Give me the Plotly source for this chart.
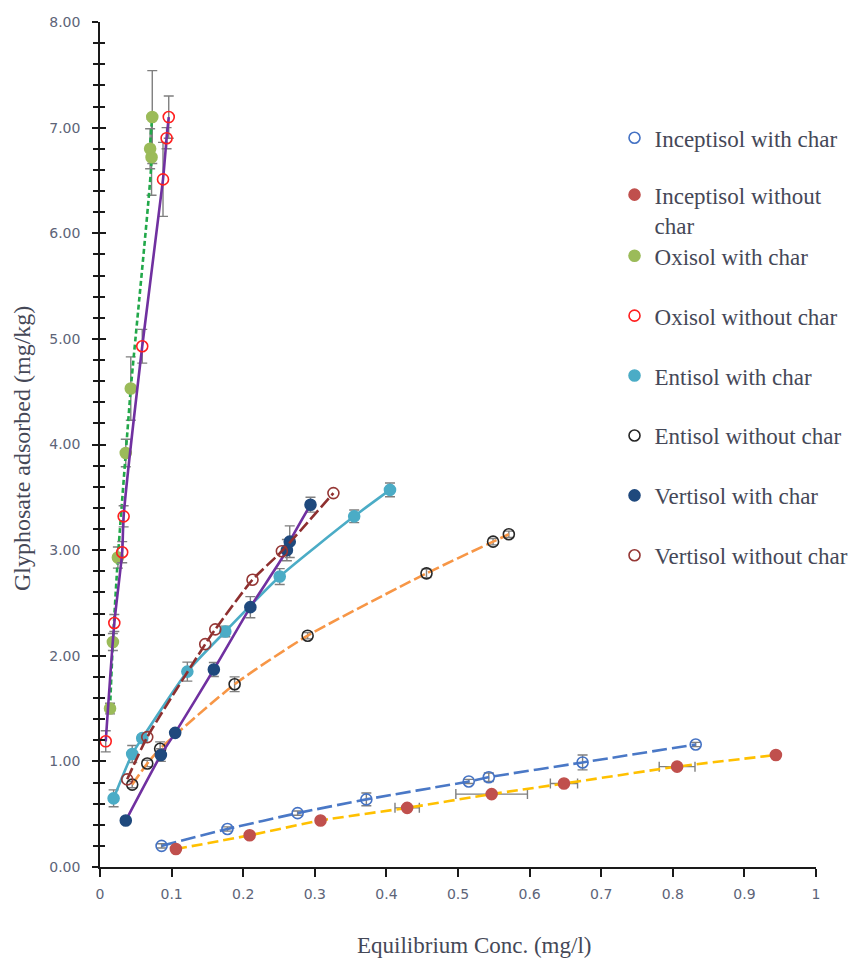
import plotly.graph_objects as go

# ---- Sorption data: equilibrium concentration (mg/l) vs glyphosate adsorbed (mg/kg)
incep_char_x = [0.086, 0.178, 0.276, 0.372, 0.515, 0.543, 0.674, 0.832]
incep_char_y = [0.20, 0.36, 0.51, 0.64, 0.81, 0.85, 0.99, 1.16]
incep_char_ey = [0.02, 0.02, 0.02, 0.06, 0.02, 0.04, 0.07, 0.02]

incep_nochar_x = [0.106, 0.209, 0.308, 0.429, 0.547, 0.648, 0.806, 0.944]
incep_nochar_y = [0.17, 0.30, 0.44, 0.56, 0.69, 0.79, 0.95, 1.06]
incep_nochar_ex = [0.0, 0.0, 0.0, 0.017, 0.05, 0.019, 0.025, 0.0]

oxi_char_x = [0.014, 0.018, 0.025, 0.036, 0.043, 0.072, 0.070, 0.073]
oxi_char_y = [1.50, 2.13, 2.93, 3.92, 4.53, 6.72, 6.80, 7.10]
oxi_char_ey = [0.05, 0.08, 0.10, 0.13, 0.30, 0.36, 0.19, 0.44]

oxi_nochar_x = [0.008, 0.020, 0.031, 0.033, 0.059, 0.088, 0.093, 0.096]
oxi_nochar_y = [1.19, 2.31, 2.98, 3.32, 4.93, 6.51, 6.90, 7.10]
oxi_nochar_ey = [0.10, 0.08, 0.10, 0.10, 0.16, 0.35, 0.10, 0.20]

enti_char_x = [0.019, 0.045, 0.059, 0.122, 0.175, 0.251, 0.355, 0.405]
enti_char_y = [0.65, 1.07, 1.22, 1.85, 2.23, 2.75, 3.32, 3.57]
enti_char_ey = [0.08, 0.08, 0.03, 0.09, 0.05, 0.075, 0.06, 0.065]

enti_nochar_x = [0.045, 0.066, 0.084, 0.188, 0.290, 0.456, 0.549, 0.571]
enti_nochar_y = [0.78, 0.98, 1.12, 1.73, 2.19, 2.78, 3.08, 3.15]
enti_nochar_ey = [0.03, 0.03, 0.065, 0.07, 0.03, 0.04, 0.03, 0.03]

verti_char_x = [0.036, 0.085, 0.105, 0.159, 0.210, 0.261, 0.265, 0.294]
verti_char_y = [0.44, 1.06, 1.27, 1.87, 2.46, 3.00, 3.08, 3.43]
verti_char_ey = [0.02, 0.06, 0.03, 0.066, 0.10, 0.10, 0.15, 0.07]

verti_nochar_x = [0.038, 0.066, 0.147, 0.161, 0.213, 0.254, 0.326]
verti_nochar_y = [0.83, 1.23, 2.11, 2.25, 2.72, 2.99, 3.54]

series_names = [
    "Inceptisol with char",
    "Inceptisol without<br>char",
    "Oxisol with char",
    "Oxisol without char",
    "Entisol with char",
    "Entisol without char",
    "Vertisol with char",
    "Vertisol without char",
]

x_ticks = [0, 0.1, 0.2, 0.3, 0.4, 0.5, 0.6, 0.7, 0.8, 0.9, 1]

# ---- styling per series: marker fill/edge, trend line colour and dash
styles = [
    dict(fill="rgba(0,0,0,0)", edge="#4472C4", line="#4a78c6", dash="15px,5px"),
    dict(fill="#C0504D", edge="#C0504D", line="#FFC000", dash="11px,5px"),
    dict(fill="#9BBB59", edge="#9BBB59", line="#22a84a", dash="5px,3px"),
    dict(fill="rgba(0,0,0,0)", edge="#FF1F1F", line="#7030A0", dash="solid"),
    dict(fill="#4BACC6", edge="#4BACC6", line="#4BACC6", dash="solid"),
    dict(fill="rgba(0,0,0,0)", edge="#262626", line="#F79646", dash="12px,4px"),
    dict(fill="#1F497D", edge="#1F497D", line="#7030A0", dash="solid"),
    dict(fill="rgba(0,0,0,0)", edge="#953735", line="#8e2f2f", dash="12px,4px"),
]

data = [
    (incep_char_x, incep_char_y, None, incep_char_ey),
    (incep_nochar_x, incep_nochar_y, incep_nochar_ex, None),
    (oxi_char_x, oxi_char_y, None, oxi_char_ey),
    (oxi_nochar_x, oxi_nochar_y, None, oxi_nochar_ey),
    (enti_char_x, enti_char_y, None, enti_char_ey),
    (enti_nochar_x, enti_nochar_y, None, enti_nochar_ey),
    (verti_char_x, verti_char_y, None, verti_char_ey),
    (verti_nochar_x, verti_nochar_y, None, None),
]

ERR_COLOR = "#7f7f7f"
fig = go.Figure()

for i, ((xs, ys, ex, ey), name, st) in enumerate(zip(data, series_names, styles)):
    legend_id = "legend" if i < 2 else "legend2"
    line_kw = dict(color=st["line"], width=2.6, shape="spline", smoothing=0.6)
    if st["dash"] != "solid":
        line_kw["dash"] = st["dash"]
    trace_kw = {}
    if ey is not None:
        trace_kw["error_y"] = dict(type="data", array=ey, visible=True,
                                   color=ERR_COLOR, thickness=1.4, width=5)
    if ex is not None:
        trace_kw["error_x"] = dict(type="data", array=ex, visible=True,
                                   color=ERR_COLOR, thickness=1.4, width=5)
    # trend line with error bars
    fig.add_trace(go.Scatter(
        x=xs, y=ys, mode="lines", line=line_kw, showlegend=False,
        legendgroup=f"g{i}", legend=legend_id, cliponaxis=False,
        hoverinfo="skip", **trace_kw))
    # measured points
    fig.add_trace(go.Scatter(
        x=xs, y=ys, mode="markers", name=name, legendgroup=f"g{i}",
        legend=legend_id, cliponaxis=False,
        marker=dict(symbol="circle", size=11, color=st["fill"],
                    line=dict(color=st["edge"], width=1.6))))

AX_COLOR = "#1a1a1a"
TICK_FONT = dict(family="DejaVu Sans", size=14, color="#5d6478")
TEXT_FONT = dict(family="Liberation Serif", size=23, color="#454857")

fig.update_layout(
    width=854, height=961,
    margin=dict(l=100, r=38, t=22, b=94, autoexpand=False),
    paper_bgcolor="white", plot_bgcolor="white",
    xaxis=dict(
        range=[0, 1], tickvals=x_ticks, ticktext=[f"{v:g}" for v in x_ticks],
        showgrid=False, zeroline=False, showline=True,
        linecolor=AX_COLOR, linewidth=1.6,
        ticks="outside", ticklen=8, tickwidth=1.6, tickcolor=AX_COLOR,
        tickfont=TICK_FONT, ticklabelstandoff=5,
    ),
    yaxis=dict(
        range=[0, 8], dtick=1, tick0=0, tickformat=".2f",
        showgrid=False, zeroline=False, showline=True,
        linecolor=AX_COLOR, linewidth=1.6,
        ticks="outside", ticklen=6, tickwidth=1.6, tickcolor=AX_COLOR,
        minor=dict(dtick=0.2, tick0=0, ticks="outside", ticklen=5,
                   tickwidth=1.6, tickcolor=AX_COLOR, showgrid=False),
        tickfont=TICK_FONT, ticklabelstandoff=9,
    ),
    # mirror axis so the y ticks cross the axis line
    yaxis2=dict(
        overlaying="y", anchor="x", side="left", range=[0, 8],
        dtick=1, tick0=0, showticklabels=False, showgrid=False,
        zeroline=False, showline=False,
        ticks="inside", ticklen=6, tickwidth=1.6, tickcolor=AX_COLOR,
        minor=dict(dtick=0.2, tick0=0, ticks="inside", ticklen=5,
                   tickwidth=1.6, tickcolor=AX_COLOR, showgrid=False),
    ),
    legend=dict(
        x=0.7186, y=(866.7 - 116) / 845, xanchor="left", yanchor="top",
        font=TEXT_FONT, bgcolor="rgba(0,0,0,0)", borderwidth=0,
        tracegroupgap=24, valign="top", itemclick=False,
    ),
    legend2=dict(
        x=0.7186, y=(866.7 - 234) / 845, xanchor="left", yanchor="top",
        font=TEXT_FONT, bgcolor="rgba(0,0,0,0)", borderwidth=0,
        tracegroupgap=27, valign="top", itemclick=False,
    ),
    annotations=[
        dict(text="Glyphosate adsorbed (mg/kg)", textangle=-90,
             xref="paper", yref="paper", x=-0.108, y=0.4955,
             xanchor="center", yanchor="middle", showarrow=False,
             font=dict(family="Liberation Serif", size=24, color="#454857")),
        dict(text="Equilibrium Conc. (mg/l)",
             xref="paper", yref="paper", x=0.5227, y=-0.0927,
             xanchor="center", yanchor="middle", showarrow=False,
             font=TEXT_FONT),
    ],
)

# invisible anchor so the mirrored tick axis is rendered
fig.add_trace(go.Scatter(x=[None], y=[None], yaxis="y2", showlegend=False,
                         hoverinfo="skip"))

fig.write_html("out.html")
